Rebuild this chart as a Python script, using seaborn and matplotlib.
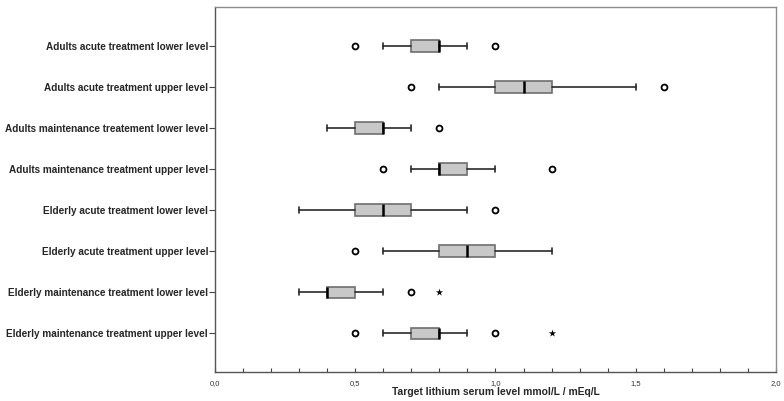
import matplotlib
matplotlib.use("Agg")
import matplotlib.pyplot as plt
from matplotlib.ticker import MultipleLocator, FuncFormatter
import pandas as pd
import seaborn as sns

# カテゴリ（上から順）
groups = [
    "Adults acute treatment lower level",
    "Adults acute treatment upper level",
    "Adults maintenance treatement lower level",
    "Adults maintenance treatment upper level",
    "Elderly acute treatment lower level",
    "Elderly acute treatment upper level",
    "Elderly maintenance treatment lower level",
    "Elderly maintenance treatment upper level",
]

# 箱ひげ図の統計量
whisker_low = [0.6, 0.8, 0.4, 0.7, 0.3, 0.6, 0.3, 0.6]
q1 = [0.7, 1.0, 0.5, 0.8, 0.5, 0.8, 0.4, 0.7]
median = [0.8, 1.1, 0.6, 0.8, 0.6, 0.9, 0.4, 0.8]
q3 = [0.8, 1.2, 0.6, 0.9, 0.7, 1.0, 0.5, 0.8]
whisker_high = [0.9, 1.5, 0.7, 1.0, 0.9, 1.2, 0.6, 0.9]

# 外れ値（○）と極値（★）
outliers = [[0.5, 1.0], [0.7, 1.6], [0.8], [0.6, 1.2], [1.0], [0.5], [0.7], [0.5, 1.0]]
extremes = [[], [], [], [], [], [], [0.8], [1.2]]

sns.set_style("white")
plt.rcParams["font.family"] = ["Liberation Sans", "DejaVu Sans"]

fig = plt.figure(figsize=(7.84, 4.01), dpi=100)
ax = fig.add_axes([0.2742, 0.0723, 0.7156, 0.9102])

stats = []
for i, name in enumerate(groups):
    stats.append({
        "label": name,
        "whislo": whisker_low[i],
        "q1": q1[i],
        "med": median[i],
        "q3": q3[i],
        "whishi": whisker_high[i],
        "fliers": [],
    })

ax.bxp(
    stats,
    positions=range(len(groups)),
    orientation="horizontal",
    widths=0.27,
    patch_artist=True,
    showfliers=False,
    boxprops=dict(facecolor="#c8c8c8", edgecolor="#6e6e6e", linewidth=1.2),
    medianprops=dict(color="black", linewidth=1.8),
    whiskerprops=dict(color="#2a2a2a", linewidth=1.2),
    capprops=dict(color="#2a2a2a", linewidth=1.2),
    capwidths=0.15,
)

# 外れ値・極値を seaborn で描画
out_df = pd.DataFrame(
    [(i, v) for i, vals in enumerate(outliers) for v in vals], columns=["pos", "value"]
)
ext_df = pd.DataFrame(
    [(i, v) for i, vals in enumerate(extremes) for v in vals], columns=["pos", "value"]
)
sns.scatterplot(
    data=out_df, x="value", y="pos", ax=ax, marker="o", s=18,
    facecolor="white", edgecolor="black", linewidth=1.3, zorder=5,
)
sns.scatterplot(
    data=ext_df, x="value", y="pos", ax=ax, marker="*", s=30,
    color="black", linewidth=0, zorder=5,
)

ax.set_xlim(0, 2.0)
ax.set_ylim(len(groups) - 0.05, -0.95)
ax.set_yticks(range(len(groups)))
ax.set_yticklabels(groups, fontsize=7.2, fontweight="bold")
ax.set_ylabel("")

ax.xaxis.set_major_locator(MultipleLocator(0.5))
ax.xaxis.set_minor_locator(MultipleLocator(0.1))
ax.xaxis.set_major_formatter(FuncFormatter(lambda v, p: f"{v:.1f}".replace(".", ",")))
ax.tick_params(axis="x", which="both", direction="in", length=3, width=0.8,
               color="#444444", labelsize=5.5, labelcolor="#333333", pad=6, bottom=True)
ax.tick_params(axis="y", which="both", direction="out", length=4, width=0.8,
               color="#444444", left=True, pad=1)
ax.set_xlabel("Target lithium serum level mmol/L / mEq/L", fontsize=7.4,
              fontweight="bold", labelpad=0)

for side in ["top", "right"]:
    ax.spines[side].set_color("#8c8c8c")
    ax.spines[side].set_linewidth(1.0)
for side in ["left", "bottom"]:
    ax.spines[side].set_color("#555555")
    ax.spines[side].set_linewidth(1.0)

fig.savefig("out.png", dpi=100)
